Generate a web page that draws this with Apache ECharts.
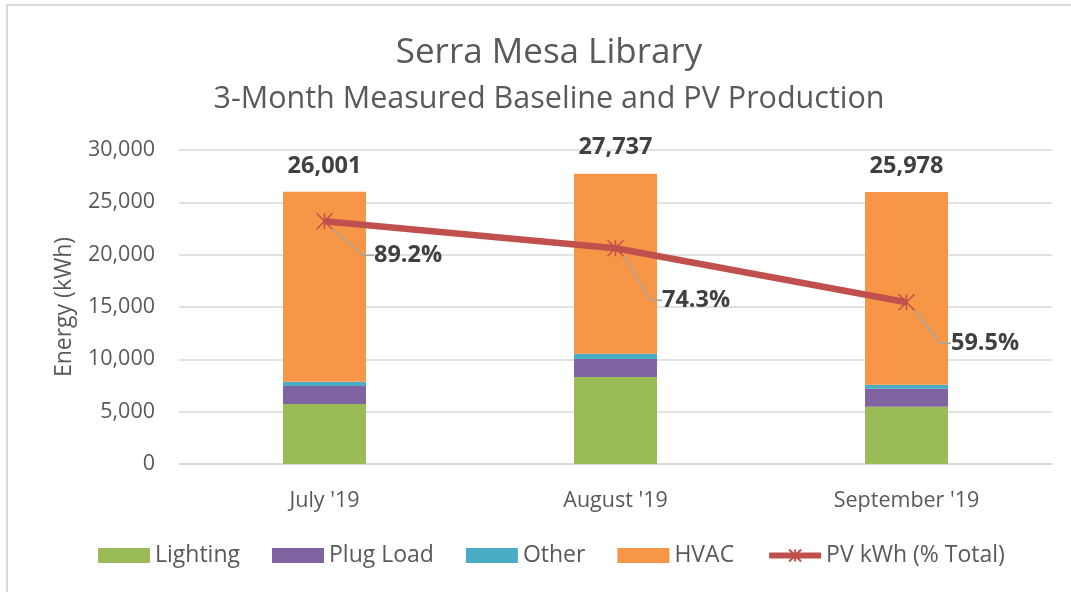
<!DOCTYPE html>
<html style="height: 100%">
<head>
    <meta charset="utf-8">
</head>
<body style="height: 100%; margin: 0; background: #fff">
<div id="frame" style="position:absolute; left:6px; top:4px; width:1100px; height:620px; border:2px solid #D9D9D9"></div>
<div id="container" style="position:absolute; left:0; top:0; width:1071px; height:592px"></div>
<script type="text/javascript" src="https://cdn.jsdelivr.net/npm/echarts@6/dist/echarts.min.js"></script>

<script type="text/javascript">
    var months = ["July '19", "August '19", "September '19"];
    var lighting = [5730, 8310, 5475];
    var plugLoad = [1720, 1720, 1715];
    var other = [410, 505, 385];
    var hvac = [18141, 17202, 18403];
    var totals = ['26,001', '27,737', '25,978'];
    var pvKwh = [23193, 20609, 15457];
    var pvPct = ['89.2%', '74.3%', '59.5%'];

    // label offsets for the PV % callouts
    var pvLabelShift = [[24, 34], [21, 52], [19, 41]];

    var font = 'Open Sans';
    var grey = '#595959';

    var dom = document.getElementById('container');
    var myChart = echarts.init(dom);

    function bar(name, data, color) {
        return {
            name: name,
            type: 'bar',
            stack: 'total',
            barWidth: 83,
            data: data,
            itemStyle: {color: color},
            emphasis: {disabled: true}
        };
    }

    var hvacSeries = bar('HVAC', hvac, '#F79646');
    hvacSeries.label = {
        show: true,
        position: 'top',
        distance: 14,
        fontFamily: font,
        fontSize: 23.5,
        fontWeight: 'bold',
        color: '#404040',
        formatter: function (p) {
            return totals[p.dataIndex];
        }
    };

    var option = {
        animation: false,
        textStyle: {fontFamily: font},
        title: {
            text: 'Serra Mesa Library',
            subtext: '3-Month Measured Baseline and PV Production',
            left: 544,
            textAlign: 'center',
            top: 31,
            itemGap: 13,
            textStyle: {fontFamily: font, fontSize: 35, fontWeight: 'normal', color: grey},
            subtextStyle: {fontFamily: font, fontSize: 30.5, color: grey}
        },
        legend: {
            bottom: 20,
            left: 93,
            itemWidth: 52,
            itemHeight: 15,
            itemGap: 32,
            textStyle: {fontFamily: font, fontSize: 23, color: grey},
            data: [
                {name: 'Lighting', icon: 'rect'},
                {name: 'Plug Load', icon: 'rect'},
                {name: 'Other', icon: 'rect'},
                {name: 'HVAC', icon: 'rect'},
                {name: 'PV kWh (% Total)', lineStyle: {width: 6}}
            ]
        },
        grid: {
            left: 179,
            right: 19,
            top: 150,
            bottom: 128
        },
        xAxis: {
            type: 'category',
            data: months,
            axisLine: {lineStyle: {color: '#D9D9D9', width: 1.5}},
            axisTick: {show: false},
            axisLabel: {fontFamily: font, fontSize: 21.5, color: grey, margin: 26}
        },
        yAxis: {
            type: 'value',
            min: 0,
            max: 30000,
            interval: 5000,
            name: 'Energy (kWh)',
            nameLocation: 'middle',
            nameGap: 103,
            nameTextStyle: {fontFamily: font, fontSize: 23, color: grey},
            axisLine: {show: false},
            axisTick: {show: false},
            splitLine: {lineStyle: {color: '#D9D9D9', width: 1.5}},
            axisLabel: {
                fontFamily: font, fontSize: 21.5, color: grey, margin: 24,
                formatter: function (v) {
                    return v.toLocaleString('en-US');
                }
            }
        },
        series: [
            bar('Lighting', lighting, '#9BBB59'),
            bar('Plug Load', plugLoad, '#8064A2'),
            bar('Other', other, '#4BACC6'),
            hvacSeries,
            {
                name: 'PV kWh (% Total)',
                type: 'line',
                data: pvKwh,
                symbol: 'path://M0,0L10,10M10,0L0,10M5,0L5,10',
                symbolSize: 16,
                lineStyle: {color: '#C0504D', width: 6.5},
                itemStyle: {color: 'none', borderColor: '#C0504D', borderWidth: 1.5},
                emphasis: {disabled: true},
                z: 5,
                label: {
                    show: true,
                    position: 'right',
                    padding: [0, 0, 0, 10],
                    fontFamily: font,
                    fontSize: 23.5,
                    fontWeight: 'bold',
                    color: '#404040',
                    formatter: function (p) {
                        return pvPct[p.dataIndex];
                    }
                },
                labelLine: {
                    show: true,
                    length2: 11,
                    lineStyle: {color: '#A5A5A5', width: 1.5}
                },
                labelLayout: function (p) {
                    var s = pvLabelShift[p.dataIndex];
                    return {dx: s[0], dy: s[1]};
                }
            }
        ]
    };

    myChart.setOption(option);
</script>

</body>
</html>
